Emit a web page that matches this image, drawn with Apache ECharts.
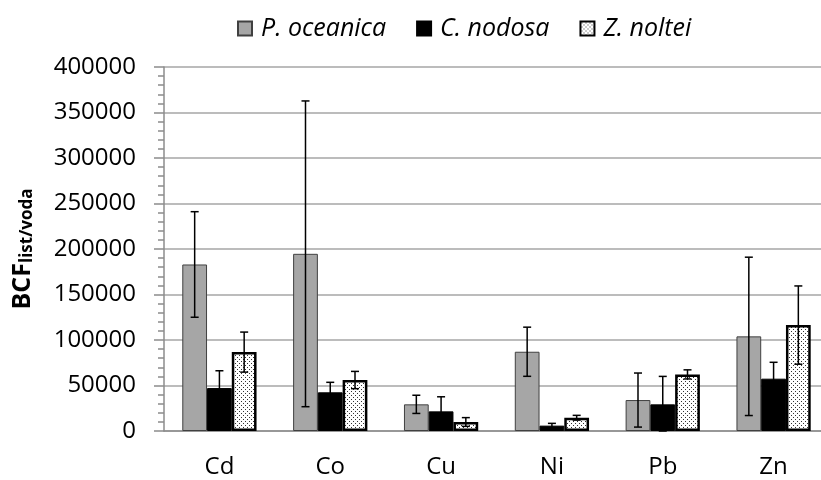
<!DOCTYPE html>
<html>
<head>
<meta charset="utf-8">
<script src="https://cdn.jsdelivr.net/npm/echarts@6/dist/echarts.min.js"></script>
<style>
  html, body { margin: 0; padding: 0; background: #fff; }
  #chart { width: 821px; height: 480px; }
</style>
</head>
<body>
<div id="chart"></div>
<script>
var metals = ['Cd', 'Co', 'Cu', 'Ni', 'Pb', 'Zn'];
var species = ['P. oceanica', 'C. nodosa', 'Z. noltei'];

var oceanica = [183000, 194700, 29300, 87100, 34000, 104000];
var oceanicaErr = [58000, 168000, 10000, 27000, 29700, 87000];
var nodosa = [47200, 42500, 21600, 5900, 29300, 57500];
var nodosaErr = [19000, 11000, 16000, 2500, 30700, 18000];
var noltei = [86700, 56000, 9900, 14600, 62200, 116400];
var nolteiErr = [22000, 9500, 4800, 2600, 5000, 43000];

var yTicks = [0, 400000, 50000];

// dotted fill for Z. noltei
var tile = document.createElement('canvas');
tile.width = 4;
tile.height = 4;
var ctx = tile.getContext('2d');
ctx.fillStyle = '#fff';
ctx.fillRect(0, 0, 4, 4);
ctx.fillStyle = '#333';
ctx.fillRect(1, 1, 1, 1);
ctx.fillRect(3, 3, 1, 1);
var dots = {image: tile, repeat: 'repeat'};

var errData = [];
[[oceanica, oceanicaErr], [nodosa, nodosaErr], [noltei, nolteiErr]].forEach(function (pair, s) {
    pair[0].forEach(function (v, i) {
        errData.push([i, v, pair[1][i], s]);
    });
});

var myChart = echarts.init(document.getElementById('chart'));

var font = '"Open Sans", "Liberation Sans", sans-serif';

var option = {
    animation: false,
    textStyle: {fontFamily: font},
    legend: {
        data: species,
        icon: 'rect',
        top: 11,
        left: 232,
        itemWidth: 14,
        itemHeight: 14,
        itemGap: 30,
        textStyle: {fontSize: 25, fontStyle: 'italic', color: '#000', fontFamily: font, padding: [0, 0, 0, 4]}
    },
    grid: {
        left: 164,
        top: 67,
        width: 665,
        height: 364,
        outerBoundsMode: 'none'
    },
    xAxis: {
        type: 'category',
        data: metals,
        axisLine: {lineStyle: {color: '#8c8c8c', width: 1.5}},
        axisTick: {length: 9, lineStyle: {color: '#8c8c8c', width: 1.5}},
        axisLabel: {color: '#000', fontSize: 24, margin: 24, fontFamily: font}
    },
    yAxis: {
        type: 'value',
        min: yTicks[0],
        max: yTicks[1],
        interval: yTicks[2],
        name: '{b|BCF}{s|list/voda}',
        nameLocation: 'middle',
        nameRotate: 90,
        nameGap: 128,
        nameTextStyle: {
            rich: {
                b: {fontSize: 25, fontWeight: 'bold', color: '#000', fontFamily: font},
                s: {fontSize: 17, fontWeight: 'bold', color: '#000', fontFamily: font, padding: [10, 0, 0, 0]}
            }
        },
        axisLine: {show: true, lineStyle: {color: '#8c8c8c', width: 1.5}},
        axisTick: {show: true, length: 10, lineStyle: {color: '#8c8c8c', width: 1.5}},
        minorTick: {show: true, splitNumber: 5, length: 6, lineStyle: {color: '#8c8c8c', width: 1.5}},
        splitLine: {lineStyle: {color: '#a6a6a6', width: 1.5}},
        axisLabel: {
            color: '#000', fontSize: 24, margin: 28, fontFamily: font,
            formatter: function (v) { return String(v); }
        }
    },
    series: [
        {
            name: species[0],
            type: 'bar',
            data: oceanica,
            barGap: '0%',
            barCategoryGap: '33%',
            itemStyle: {color: '#a6a6a6', borderColor: '#404040', borderWidth: 1}
        },
        {
            name: species[1],
            type: 'bar',
            data: nodosa,
            itemStyle: {color: '#000', borderColor: '#000', borderWidth: 1}
        },
        {
            name: species[2],
            type: 'bar',
            data: noltei,
            itemStyle: {color: dots, borderColor: '#000', borderWidth: 2.5}
        },
        {
            type: 'custom',
            data: errData,
            z: 10,
            silent: true,
            renderItem: function (params, api) {
                var cat = api.value(0), v = api.value(1), e = api.value(2), s = api.value(3);
                var band = api.size([1, 0])[0];
                var bw = band * 0.67 / 3;
                var x = api.coord([cat, v])[0] + (s - 1) * bw;
                var yTop = api.coord([cat, v + e])[1];
                var yBot = api.coord([cat, Math.max(v - e, 0)])[1];
                var style = {stroke: '#000', lineWidth: 1.5};
                var cap = 4;
                return {
                    type: 'group',
                    children: [
                        {type: 'line', shape: {x1: x, y1: yTop, x2: x, y2: yBot}, style: style},
                        {type: 'line', shape: {x1: x - cap, y1: yTop, x2: x + cap, y2: yTop}, style: style},
                        {type: 'line', shape: {x1: x - cap, y1: yBot, x2: x + cap, y2: yBot}, style: style}
                    ]
                };
            }
        }
    ]
};

myChart.setOption(option);
</script>
</body>
</html>
